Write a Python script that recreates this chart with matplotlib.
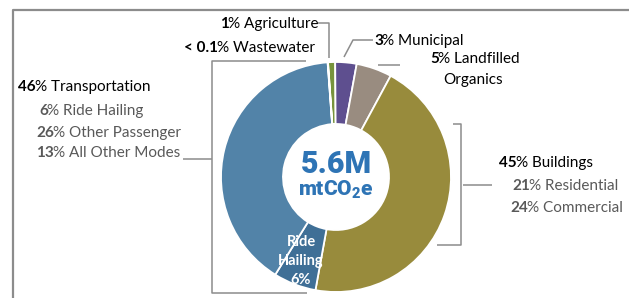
import matplotlib.pyplot as plt

plt.rcParams['font.family'] = ['Lato', 'DejaVu Sans']
plt.rcParams['mathtext.fontset'] = 'custom'
plt.rcParams['mathtext.bf'] = 'Roboto:black'
plt.rcParams['mathtext.rm'] = 'Roboto'

# wedges, clockwise from just left of 12 o'clock
sectors = ['Agriculture', 'Municipal', 'Landfilled Organics', 'Buildings',
           'Ride Hailing', 'Other Transportation', 'Wastewater']
shares = [1, 3, 5, 45, 6, 40, 0.05]
colors = ['#77933C', '#5E4F8F', '#998C80', '#988B3C', '#3F6F96', '#5283A8', '#4BACC6']

transport_total = '46'
transport_parts = [('6', 'Ride Hailing'), ('26', 'Other Passenger'), ('13', 'All Other Modes')]
buildings_total = '45'
buildings_parts = [('21', 'Residential'), ('24', 'Commercial')]
total_label = '5.6M'

W, H = 629, 298
GRAY = '#8C8C8C'
SUB = '#595959'
BLUE = '#2E74B5'

fig = plt.figure(figsize=(W / 100, H / 100), dpi=100)
ax = fig.add_axes([0, 0, 1, 1])

cx, cy, r = 336, H - 177, 115
ax.pie(shares, colors=colors, startangle=94, counterclock=False,
       radius=r, center=(cx, cy), frame=True,
       wedgeprops=dict(width=62, edgecolor='white', linewidth=1.3))
ax.set_xlim(0, W)
ax.set_ylim(0, H)
ax.axis('off')


def line(pts, lw=1.1):
    xs = [p[0] for p in pts]
    ys = [H - p[1] for p in pts]
    ax.plot(xs, ys, color=GRAY, lw=lw, solid_capstyle='butt', clip_on=False)


def label(x, y, num, rest, color='black', ha='left', size=11):
    # bold number followed by regular text, sharing one baseline
    if ha == 'left':
        t = ax.text(x, H - y, num, fontweight='bold', color=color,
                    fontsize=size, va='baseline', ha='left')
        ax.annotate(rest, xy=(1, 0), xycoords=t, xytext=(-0.8, 0),
                    textcoords='offset points', va='bottom', ha='left',
                    color=color, fontsize=size)
    else:
        t = ax.text(x, H - y, rest, color=color, fontsize=size,
                    va='baseline', ha='right')
        ax.annotate(num, xy=(0, 0), xycoords=t, xytext=(0.8, 0),
                    textcoords='offset points', va='bottom', ha='right',
                    fontweight='bold', color=color, fontsize=size)


# outer frame
line([(13, 298), (13, 10), (629, 10)], lw=1.6)

# small sectors at the top
label(318, 28, '1', '% Agriculture', ha='right')
line([(318, 23), (329, 23), (329, 58)])
label(315, 52, '< 0.1', '% Wastewater', ha='right')
label(374, 45, '3', '% Municipal')
line([(373, 40), (353, 40), (344, 57)])
label(430, 63, '5', '% Landfilled')
ax.text(473, H - 84, 'Organics', fontsize=11, ha='center', va='baseline')
line([(378, 65), (400, 65)])

# transportation
label(18, 91, transport_total, '% Transportation')
sub_pos = [(39, 115), (36, 137), (36, 157)]
for (num, name), (x, y) in zip(transport_parts, sub_pos):
    label(x, y, num, '% ' + name, color=SUB)
line([(306, 61), (212, 61), (212, 293), (307, 293)])
line([(212, 159), (183, 159)])

# buildings
label(499, 167, buildings_total, '% Buildings')
sub_pos = [(512, 190), (510, 212)]
for (num, name), (x, y) in zip(buildings_parts, sub_pos):
    label(x, y, num, '% ' + name, color=SUB)
line([(453, 124), (461, 124), (461, 245), (437, 245)])
line([(463, 185), (492, 185)])

# centre
ax.text(cx, H - 164, total_label, fontsize=22, fontweight='black', color=BLUE,
        family=['Roboto', 'DejaVu Sans'], ha='center', va='center')
ax.text(cx, H - 190, r'$\mathbf{mtCO}_{\mathbf{2}}\mathbf{e}$', fontsize=15,
        color=BLUE, ha='center', va='center')

# ride hailing wedge label
ax.text(301, H - 261, 'Ride\nHailing\n6%', fontsize=10.5, fontweight='bold',
        color='white', ha='center', va='center', linespacing=1.45)

fig.savefig('out.png', dpi=100)
